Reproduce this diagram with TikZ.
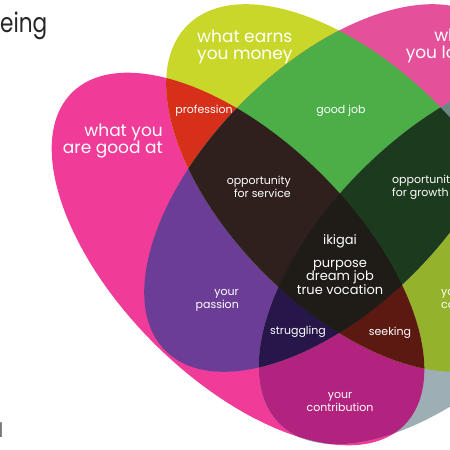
\documentclass[tikz,border=0pt]{standalone}
\usepackage{fontspec}
\setmainfont{Poppins}
\usepackage{graphicx}
\usepackage{xcolor}
\usepackage{tikz}

% colours of the single sets and of their overlaps
\definecolor{colP}{HTML}{F03C98}
\definecolor{colY}{HTML}{C8D72A}
\definecolor{colM}{HTML}{E4509A}
\definecolor{colG}{HTML}{9DAEB5}
\definecolor{colPY}{HTML}{D62F1A}
\definecolor{colPM}{HTML}{6C3D96}
\definecolor{colPG}{HTML}{B1237F}
\definecolor{colYM}{HTML}{4BAE47}
\definecolor{colYG}{HTML}{95B22C}
\definecolor{colMG}{HTML}{6F8687}
\definecolor{colPYM}{HTML}{2F201D}
\definecolor{colPYG}{HTML}{5B1911}
\definecolor{colPMG}{HTML}{27164A}
\definecolor{colYMG}{HTML}{1C3A1E}
\definecolor{colAll}{HTML}{1F1B17}

\tikzstyle{bigtext} = [text=white, inner sep=0pt, font=\fontsize{17}{17}\selectfont]
\tikzstyle{midtext} = [text=white, inner sep=0pt, font=\fontsize{13}{13.5}\selectfont]
\tikzstyle{smalltext} = [text=white, inner sep=0pt, font=\fontsize{11}{13}\selectfont]

\newcommand{\ovalP}[1]{\path[#1, rotate around={-45:(238,259)}] (238,259) ellipse [x radius=235, y radius=119];}
\newcommand{\ovalY}[1]{\path[#1, rotate around={-45:(350,188)}] (350,188) ellipse [x radius=230, y radius=121];}
\newcommand{\ovalM}[1]{\path[#1, rotate around={45:(328,188)}] (328,188) ellipse [x radius=230, y radius=121];}
\newcommand{\ovalG}[1]{\path[#1, rotate around={45:(447,256)}] (447,256) ellipse [x radius=237, y radius=121];}

\begin{document}
\begin{tikzpicture}[x=1pt, y=-1pt]
    \useasboundingbox (0,0) rectangle (450,450);
    \clip (0,0) rectangle (450,450);

    % Sets
    \ovalP{fill=colP}
    \ovalY{fill=colY}
    \ovalM{fill=colM}
    \ovalG{fill=colG}

    % Two sets
    \begin{scope}\ovalP{clip}\ovalY{fill=colPY}\end{scope}
    \begin{scope}\ovalP{clip}\ovalM{fill=colPM}\end{scope}
    \begin{scope}\ovalP{clip}\ovalG{fill=colPG}\end{scope}
    \begin{scope}\ovalY{clip}\ovalM{fill=colYM}\end{scope}
    \begin{scope}\ovalY{clip}\ovalG{fill=colYG}\end{scope}
    \begin{scope}\ovalM{clip}\ovalG{fill=colMG}\end{scope}

    % Three sets
    \begin{scope}\ovalP{clip}\ovalY{clip}\ovalM{fill=colPYM}\end{scope}
    \begin{scope}\ovalP{clip}\ovalY{clip}\ovalG{fill=colPYG}\end{scope}
    \begin{scope}\ovalP{clip}\ovalM{clip}\ovalG{fill=colPMG}\end{scope}
    \begin{scope}\ovalY{clip}\ovalM{clip}\ovalG{fill=colYMG}\end{scope}

    % All four
    \begin{scope}\ovalP{clip}\ovalY{clip}\ovalM{clip}\ovalG{fill=colAll}\end{scope}

    % Labels
    \node (title) [anchor=base west, inner sep=0pt, text=black!85, font=\fontsize{27}{27}\selectfont] at (0,32) {\scalebox{0.8}[1]{eing}};
    \node (credit) [anchor=base west, inner sep=0pt, text=black!55, font=\fontsize{20}{20}\selectfont] at (-1.5,437) {l};
    \node (goodat) [bigtext, anchor=east, align=right] at (163,141) {what you\\are good at};
    \node (money) [bigtext, anchor=west, align=left] at (197,46.5) {what earns\\you money};
    \node (love) [bigtext, anchor=east, align=right] at (477,45.5) {what\\you love};
    \node (profession) [smalltext] at (204,110.5) {profession};
    \node (goodjob) [smalltext] at (341,111) {good job};
    \node (service) [smalltext, anchor=east, align=right] at (291,187) {opportunity\\for service};
    \node (growth) [smalltext, anchor=west, align=left] at (392,187) {opportunity\\for growth};
    \node (ikigai) [midtext] at (340,241.5) {ikigai};
    \node (purpose) [midtext, align=center] at (340,277) {purpose\\dream job\\true vocation};
    \node (passion) [smalltext, anchor=east, align=right] at (239,300) {your\\passion};
    \node (struggling) [smalltext] at (298,331.5) {struggling};
    \node (seeking) [smalltext] at (390,332.5) {seeking};
    \node (contribution) [smalltext, align=center] at (340,402) {your\\contribution};
    \node (career) [smalltext, anchor=west, align=left] at (441,299) {your\\career};
\end{tikzpicture}
\end{document}
